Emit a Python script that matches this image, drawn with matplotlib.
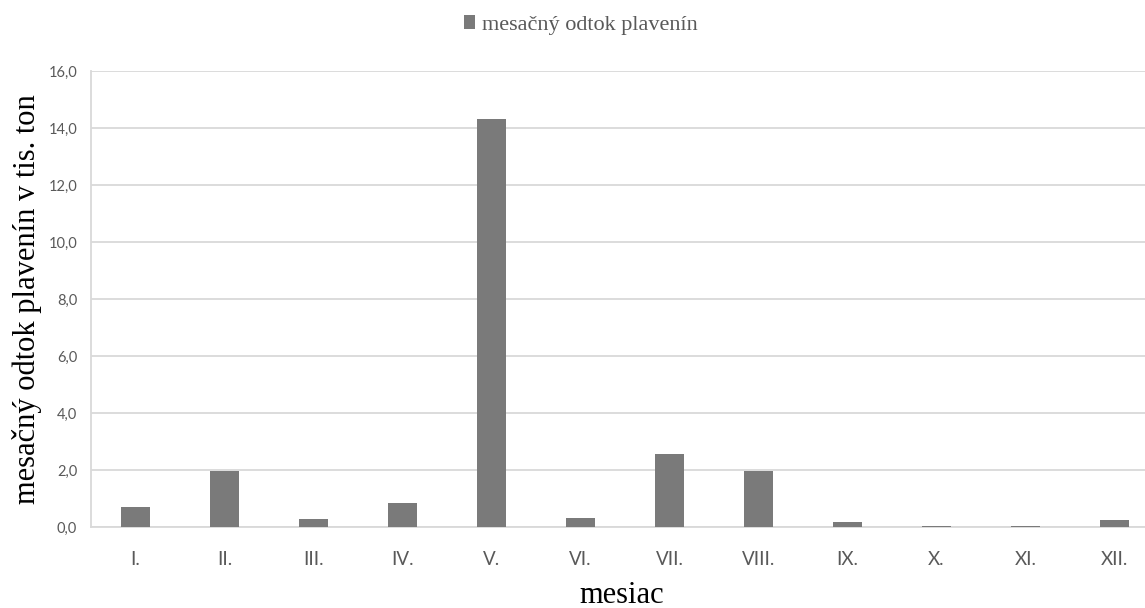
import matplotlib
matplotlib.use("Agg")
import matplotlib.pyplot as plt
from matplotlib.patches import Patch
import numpy as np

months = ["I.", "II.", "III.", "IV.", "V.", "VI.", "VII.", "VIII.", "IX.", "X.", "XI.", "XII."]
runoff = [0.70, 1.95, 0.27, 0.84, 14.30, 0.32, 2.56, 1.95, 0.18, 0.05, 0.05, 0.23]
y_ticks = [0, 2, 4, 6, 8, 10, 12, 14, 16]
series_name = "mesačný odtok plavenín"

bar_color = "#7a7a7a"
grid_color = "#d9d9d9"
tick_color = "#595959"

fig = plt.figure(figsize=(11.45, 6.08), dpi=100)
ax = fig.add_axes([91 / 1145, 81 / 608, 1068 / 1145, 456 / 608])

x = np.arange(len(months))
ax.bar(x, runoff, width=0.33, color=bar_color, zorder=3)

ax.set_xlim(-0.5, len(months) - 0.5)
ax.set_ylim(0, 16)
ax.set_yticks(y_ticks)
ax.set_yticklabels([f"{v:.1f}".replace(".", ",") for v in y_ticks],
                   fontsize=10.5, color=tick_color, family="Lato")
ax.set_xticks(x)
ax.set_xticklabels(months, fontsize=13.5, color=tick_color, family="Lato")
ax.tick_params(axis="both", length=0)
ax.tick_params(axis="x", pad=17)
ax.tick_params(axis="y", pad=10)

ax.grid(axis="y", color=grid_color, linewidth=1.3, zorder=0)
for side in ("top", "right"):
    ax.spines[side].set_visible(False)
for side in ("left", "bottom"):
    ax.spines[side].set_color(grid_color)
    ax.spines[side].set_linewidth(1.3)

ax.set_xlabel("mesiac", family="Liberation Serif", fontsize=22)
ax.xaxis.set_label_coords(0.497, -0.150, transform=ax.transAxes)
ax.xaxis.label.set_va("center")
ax.set_ylabel("mesačný odtok plavenín v tis. ton", family="Liberation Serif",
              fontsize=22)
ax.yaxis.set_label_coords(-0.06, 0.5)
ax.yaxis.label.set_va("center")

fig.legend(handles=[Patch(facecolor=bar_color, edgecolor="none", label=series_name)],
           loc="center", bbox_to_anchor=(581 / 1145, 1 - 25 / 608), frameon=False,
           prop={"family": "Liberation Serif", "size": 16},
           handlelength=0.5, handleheight=0.6, handletextpad=0.3,
           labelcolor="#595959")

fig.savefig("out.png", dpi=100)
